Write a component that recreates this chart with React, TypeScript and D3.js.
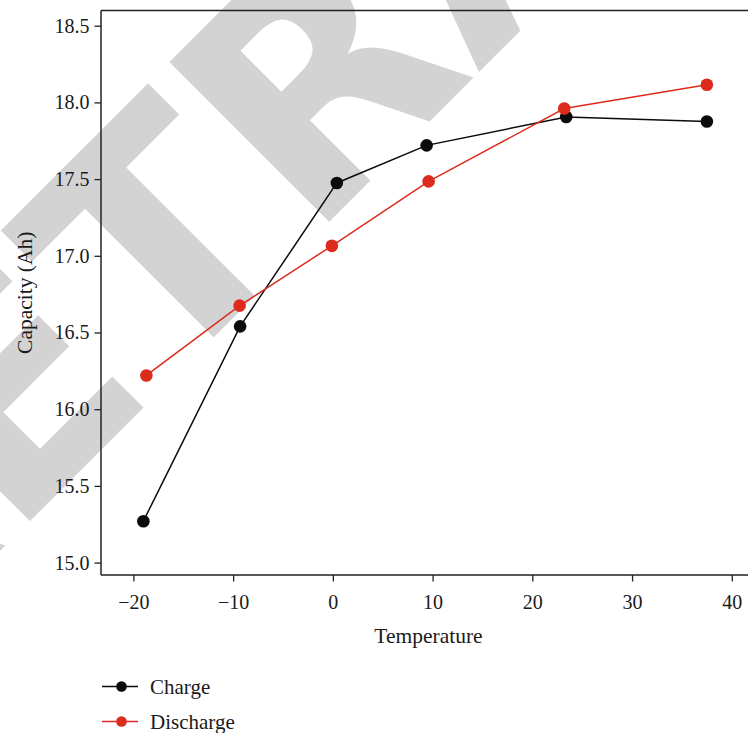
import React, { useEffect, useRef } from 'react';
import * as d3 from 'd3';

// temperature (x) and capacity (y)
const chargeTemp = [-19.0, -9.3, 0.4, 9.4, 23.4, 37.5];
const chargeCap = [15.27, 16.54, 17.475, 17.72, 17.905, 17.875];
const dischargeTemp = [-18.7, -9.35, -0.1, 9.6, 23.2, 37.5];
const dischargeCap = [16.22, 16.675, 17.065, 17.485, 17.96, 18.115];

const xTicks = [-20, -10, 0, 10, 20, 30, 40];
const yTicks = [15.0, 15.5, 16.0, 16.5, 17.0, 17.5, 18.0, 18.5];

const seriesNames = ['Charge', 'Discharge'];
const seriesColors = ['#0b0b0b', '#dc2b1c'];

const App = () => {
  const svgRef = useRef<SVGSVGElement>(null);

  useEffect(() => {
    const svg = d3.select(svgRef.current);
    svg.selectAll('*').remove();

    const serif = '"Liberation Serif", "Times New Roman", serif';
    const box = { left: 101, right: 756, top: 10.5, bottom: 575 };

    // watermark behind the chart
    svg.append('text')
      .attr('transform', 'translate(-159,710) rotate(-45)')
      .attr('font-family', '"DejaVu Sans", sans-serif')
      .attr('font-weight', 'bold')
      .attr('font-size', 310)
      .attr('fill', '#d3d3d3')
      .text('RETRACTED');

    const x = d3.scaleLinear().domain([-20, 40]).range([133.4, 731.8]);
    const y = d3.scaleLinear().domain([15, 18.5]).range([562.6, 25.7]);

    // frame
    const frame = svg.append('g').attr('stroke', '#222').attr('stroke-width', 1.5);
    frame.append('line').attr('x1', box.left).attr('x2', box.left).attr('y1', box.top).attr('y2', box.bottom);
    frame.append('line').attr('x1', box.left).attr('x2', box.right).attr('y1', box.top).attr('y2', box.top);
    frame.append('line').attr('x1', box.left).attr('x2', box.right).attr('y1', box.bottom).attr('y2', box.bottom);

    // x axis
    const xAxis = svg.append('g')
      .attr('transform', `translate(0,${box.bottom})`)
      .call(d3.axisBottom(x).tickValues(xTicks).tickSize(6.5).tickPadding(13).tickFormat(d => d3.format('')(d as number).replace('-', '\u2212')));
    xAxis.select('.domain').remove();
    xAxis.selectAll('line').attr('stroke', '#222').attr('stroke-width', 1.3);
    xAxis.selectAll('text').attr('font-family', serif).attr('font-size', 20).attr('fill', '#1a1a1a');

    // y axis
    const yAxis = svg.append('g')
      .attr('transform', `translate(${box.left},0)`)
      .call(d3.axisLeft(y).tickValues(yTicks).tickSize(6.5).tickPadding(5).tickFormat(d3.format('.1f')));
    yAxis.select('.domain').remove();
    yAxis.selectAll('line').attr('stroke', '#222').attr('stroke-width', 1.3);
    yAxis.selectAll('text').attr('font-family', serif).attr('font-size', 20).attr('fill', '#1a1a1a');

    // axis titles
    svg.append('text')
      .attr('x', 428.5).attr('y', 643)
      .attr('text-anchor', 'middle')
      .attr('font-family', serif).attr('font-size', 21.5).attr('fill', '#1a1a1a')
      .text('Temperature');
    svg.append('text')
      .attr('transform', `translate(32,${(box.top + box.bottom) / 2}) rotate(-90)`)
      .attr('text-anchor', 'middle')
      .attr('font-family', serif).attr('font-size', 21.5).attr('fill', '#1a1a1a')
      .text('Capacity (Ah)');

    // series
    const series = [
      chargeTemp.map((t, i) => [t, chargeCap[i]]),
      dischargeTemp.map((t, i) => [t, dischargeCap[i]]),
    ];
    const line = d3.line<number[]>().x(d => x(d[0])).y(d => y(d[1]));

    series.forEach((pts, s) => {
      svg.append('path')
        .datum(pts)
        .attr('fill', 'none')
        .attr('stroke', seriesColors[s])
        .attr('stroke-width', 1.5)
        .attr('d', line);
      svg.append('g').selectAll('circle')
        .data(pts)
        .join('circle')
        .attr('cx', d => x(d[0]))
        .attr('cy', d => y(d[1]))
        .attr('r', 6.3)
        .attr('fill', seriesColors[s]);
    });

    // legend
    const legend = svg.append('g').attr('transform', 'translate(102,686.5)');
    seriesNames.forEach((name, i) => {
      const g = legend.append('g').attr('transform', `translate(0,${i * 35})`);
      g.append('line').attr('x1', 0).attr('x2', 36).attr('y1', 0).attr('y2', 0)
        .attr('stroke', seriesColors[i]).attr('stroke-width', 1.5);
      g.append('circle').attr('cx', 19.5).attr('cy', 0).attr('r', 5.3).attr('fill', seriesColors[i]);
      g.append('text')
        .attr('x', 48).attr('y', 7.5)
        .attr('font-family', serif).attr('font-size', 21).attr('fill', '#1a1a1a')
        .text(name);
    });
  }, []);

  return (
    <svg
      ref={svgRef}
      width={748}
      height={733}
      style={{ position: 'absolute', left: 0, top: 0, background: '#fff' }}
    />
  );
};

export default App;
